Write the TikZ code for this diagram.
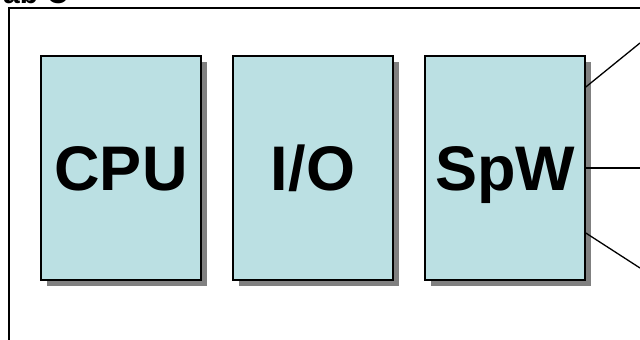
\documentclass[tikz,border=0pt]{standalone}
\usepackage{fontspec}
\setmainfont{Liberation Sans}
\usetikzlibrary{shadows}
\definecolor{boxfill}{HTML}{BBE0E3}
\tikzset{
  unitbox/.style={draw=black, line width=1.6pt, fill=boxfill, minimum width=160pt, minimum height=224pt,
    inner sep=0pt, text height=45pt, text depth=-4pt,
    font=\fontsize{63}{72}\selectfont\bfseries,
    drop shadow={shadow xshift=6pt, shadow yshift=-6pt, fill=black!50, opacity=1}},
  link/.style={draw=black, line width=1.3pt},
  frame/.style={draw=black, line width=1.6pt}
}
\begin{document}
\begin{tikzpicture}[x=1pt,y=-1pt]
\useasboundingbox (0,0) rectangle (640,340);
\node[anchor=base west, inner sep=0pt, font=\fontsize{30}{36}\selectfont\bfseries] (title) at (3,4) {ab C};
\draw[frame] (9,345) -- (9,8) -- (645,8);
\node[unitbox] (cpu) at (121,168) {CPU};
\node[unitbox] (io) at (313,168) {I/O};
\node[unitbox] (spw) at (505,168) {SpW};
\coordinate (e1) at (640,43);
\coordinate (e2) at (640,168);
\coordinate (e3) at (640,268);
\draw[link] (spw.east |- 0,87) -- (e1);
\draw[link] (spw.east) -- (e2);
\draw[link] (spw.east |- 0,233) -- (e3);
\end{tikzpicture}
\end{document}
